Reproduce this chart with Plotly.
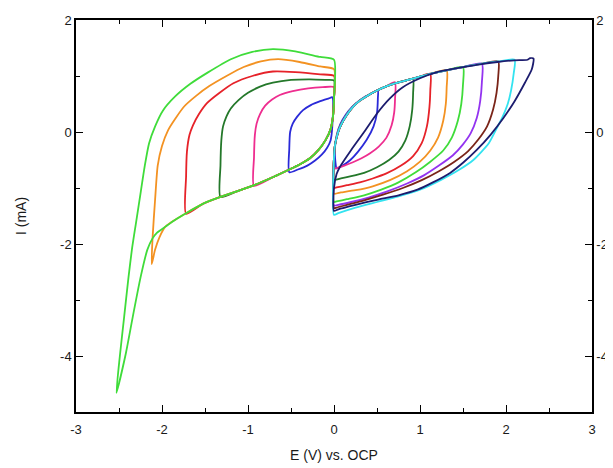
import plotly.graph_objects as go

# ---------------- data ----------------
# Left side: common cathodic branch (from 0 V to the most negative limit)
cath_E = [0.0, -0.01, -0.04, -0.10, -0.18, -0.28, -0.40, -0.52, -0.70, -0.93, -1.13, -1.32,
          -1.52, -1.72, -1.85, -1.96, -2.06, -2.11, -2.17, -2.25, -2.34, -2.42, -2.53]
cath_I = [0.60, 0.30, 0.05, -0.15, -0.32, -0.47, -0.58, -0.67, -0.80, -0.95, -1.06, -1.16,
          -1.28, -1.45, -1.57, -1.69, -1.80, -1.90, -2.10, -2.60, -3.30, -3.95, -4.66]

# Left loops: join point on the common branch, then own return branch
left_blue_E = [-0.02, -0.02, -0.04, -0.08, -0.14, -0.22, -0.31, -0.42, -0.52, -0.52, -0.51, -0.48,
               -0.43, -0.36, -0.27, -0.16, -0.06, -0.02]
left_blue_I = [0.62, 0.10, -0.15, -0.28, -0.40, -0.51, -0.60, -0.67, -0.72, -0.30, 0.00, 0.15,
               0.27, 0.39, 0.48, 0.55, 0.60, 0.62]
left_magenta_E = [-0.93, -0.93, -0.92, -0.90, -0.86, -0.80, -0.72, -0.63, -0.48, -0.30, -0.13, 0.0]
left_magenta_I = [-0.96, -0.45, -0.05, 0.15, 0.32, 0.47, 0.58, 0.66, 0.73, 0.78, 0.80, 0.80]
left_dkgreen_E = [-1.32, -1.32, -1.31, -1.29, -1.25, -1.20, -1.11, -1.00, -0.86, -0.71, -0.50, -0.28, -0.10, 0.0]
left_dkgreen_I = [-1.16, -0.60, -0.15, 0.10, 0.28, 0.42, 0.57, 0.70, 0.81, 0.88, 0.93, 0.94, 0.93, 0.92]
left_red_E = [-1.72, -1.72, -1.71, -1.68, -1.64, -1.57, -1.48, -1.33, -1.17, -0.95, -0.71, -0.45, -0.16, 0.0]
left_red_I = [-1.46, -0.80, -0.35, -0.05, 0.12, 0.32, 0.51, 0.70, 0.87, 1.00, 1.08, 1.07, 1.03, 1.00]
left_orange_E = [-2.03, -2.08, -2.12, -2.11, -2.08, -2.05, -2.00, -1.93, -1.84, -1.74, -1.60, -1.45,
                 -1.25, -1.05, -0.85, -0.65, -0.40, -0.16, 0.0]
left_orange_I = [-1.88, -2.10, -2.36, -1.90, -1.20, -0.60, -0.25, 0.03, 0.25, 0.46, 0.65, 0.82,
                 1.00, 1.16, 1.26, 1.30, 1.25, 1.17, 1.12]
left_green_E = [-2.53, -2.49, -2.44, -2.39, -2.35, -2.30, -2.25, -2.20, -2.15, -2.08, -1.99, -1.85,
                -1.67, -1.47, -1.20, -0.95, -0.71, -0.45, -0.16, 0.0]
left_green_I = [-4.66, -4.00, -3.30, -2.60, -2.10, -1.60, -1.10, -0.60, -0.20, 0.10, 0.38, 0.63,
                0.86, 1.06, 1.30, 1.43, 1.48, 1.44, 1.34, 1.29]
left_join = [0.0, -0.93, -1.32, -1.72, -2.0, -2.53]

# Right side: common anodic (upper) envelope
env_E = [0.0, 0.01, 0.03, 0.06, 0.10, 0.16, 0.22, 0.30, 0.38, 0.50, 0.60, 0.71, 0.86, 1.00,
         1.12, 1.31, 1.50, 1.72, 1.91, 2.10]
env_I = [-0.45, -0.25, -0.10, 0.05, 0.18, 0.33, 0.45, 0.56, 0.64, 0.74, 0.81, 0.87, 0.93, 0.99,
         1.04, 1.10, 1.16, 1.22, 1.26, 1.29]

right_blue_E = [0.03, 0.01, 0.02, 0.05, 0.10, 0.17, 0.26, 0.36, 0.45, 0.51, 0.51, 0.50, 0.46,
                0.38, 0.28, 0.19, 0.10, 0.05, 0.03]
right_blue_I = [-0.65, -0.40, -0.15, 0.05, 0.22, 0.38, 0.52, 0.63, 0.70, 0.75, 0.60, 0.34, 0.10,
                -0.14, -0.35, -0.50, -0.60, -0.64, -0.65]
right_pink_E = [0.71, 0.71, 0.70, 0.67, 0.61, 0.52, 0.42, 0.32, 0.22, 0.12, 0.04, 0.0]
right_pink_I = [0.89, 0.60, 0.35, 0.12, -0.10, -0.26, -0.38, -0.47, -0.54, -0.60, -0.64, -0.66]
right_dkgreen_E = [0.92, 0.92, 0.91, 0.88, 0.83, 0.75, 0.64, 0.50, 0.35, 0.20, 0.08, 0.0]
right_dkgreen_I = [0.95, 0.70, 0.40, 0.10, -0.15, -0.35, -0.50, -0.63, -0.73, -0.79, -0.83, -0.85]
right_red_E = [1.12, 1.12, 1.11, 1.08, 1.02, 0.92, 0.78, 0.61, 0.45, 0.30, 0.15, 0.03, 0.0]
right_red_I = [1.04, 0.75, 0.45, 0.10, -0.20, -0.43, -0.60, -0.74, -0.83, -0.90, -0.95, -0.99, -1.00]
right_orange_E = [1.31, 1.31, 1.30, 1.27, 1.21, 1.12, 1.00, 0.85, 0.65, 0.45, 0.25, 0.08, 0.0]
right_orange_I = [1.10, 0.80, 0.50, 0.20, -0.10, -0.33, -0.53, -0.70, -0.86, -0.97, -1.04, -1.08, -1.10]
right_green_E = [1.50, 1.50, 1.48, 1.44, 1.37, 1.27, 1.12, 0.95, 0.75, 0.55, 0.35, 0.15, 0.03, 0.0]
right_green_I = [1.16, 0.85, 0.50, 0.20, -0.10, -0.33, -0.53, -0.72, -0.90, -1.03, -1.13, -1.20, -1.24, -1.25]
right_purple_E = [1.72, 1.72, 1.70, 1.66, 1.59, 1.50, 1.38, 1.22, 1.05, 0.85, 0.62, 0.40, 0.20, 0.05, 0.0]
right_purple_I = [1.22, 0.90, 0.55, 0.25, -0.02, -0.22, -0.42, -0.60, -0.77, -0.92, -1.06, -1.17, -1.25, -1.30, -1.31]
right_brown_E = [1.91, 1.91, 1.89, 1.85, 1.78, 1.68, 1.56, 1.40, 1.22, 1.02, 0.80, 0.57, 0.35, 0.15, 0.03, 0.0]
right_brown_I = [1.26, 1.00, 0.70, 0.40, 0.10, -0.13, -0.34, -0.53, -0.70, -0.86, -1.00, -1.12, -1.22, -1.30, -1.35, -1.36]
right_cyan_E = [2.10, 2.09, 2.06, 2.02, 1.96, 1.88, 1.80, 1.62, 1.45, 1.25, 1.00, 0.75, 0.50, 0.25, 0.05, 0.0]
right_cyan_I = [1.29, 1.05, 0.75, 0.50, 0.27, 0.03, -0.20, -0.50, -0.68, -0.85, -1.03, -1.15, -1.25, -1.35, -1.45, -1.48]
right_navy_E = [0.0, 0.0, 0.03, 0.07, 0.20, 0.35, 0.50, 0.65, 0.80, 1.00, 1.20, 1.40, 1.66, 1.90, 2.10,
                2.25, 2.28, 2.32, 2.30, 2.22, 2.10, 1.97, 1.82, 1.66, 1.50, 1.35, 1.15, 0.97, 0.75,
                0.50, 0.25, 0.05, 0.0]
right_navy_I = [-1.41, -1.00, -0.75, -0.62, -0.32, 0.00, 0.33, 0.60, 0.80, 0.96, 1.07, 1.13, 1.20, 1.25, 1.28,
                1.29, 1.32, 1.31, 1.12, 0.88, 0.55, 0.25, -0.05, -0.32, -0.55, -0.73, -0.90, -1.03, -1.13,
                -1.21, -1.30, -1.38, -1.41]

x_ticks = [-3, -2, -1, 0, 1, 2, 3]
x_tick_text = ["-3", "-2", "-1", "0", "1", "2", "3"]
y_ticks = [-4, -2, 0, 2]
y_tick_text = ["-4", "-2", "0", "2"]

C = dict(blue="#2a2ad8", magenta="#ee2d8f", dkgreen="#24782a", red="#e62229", orange="#f39222",
         green="#3fdc3a", purple="#9333f0", brown="#7a2418", cyan="#33e3f0", navy="#1c1c6e")

fig = go.Figure()

def add(E, I, color):
    fig.add_trace(go.Scatter(x=E, y=I, mode="lines",
                             line=dict(color=color, width=1.8, shape="spline", smoothing=0.6),
                             hoverinfo="skip", showlegend=False))

# left loops
left_sets = [(left_blue_E, left_blue_I, C["blue"]), (left_magenta_E, left_magenta_I, C["magenta"]),
             (left_dkgreen_E, left_dkgreen_I, C["dkgreen"]), (left_red_E, left_red_I, C["red"]),
             (left_orange_E, left_orange_I, C["orange"]), (left_green_E, left_green_I, C["green"])]
for (E, I, col), j in zip(left_sets, left_join):
    if j < 0:
        ce = [e for e in cath_E if e > j]
        ci = [i for e, i in zip(cath_E, cath_I) if e > j]
        add(ce + E + [cath_E[0]], ci + I + [cath_I[0]], col)
    else:
        add(E, I, col)

# right loops
add(right_blue_E, right_blue_I, C["blue"])
right_sets = [(right_pink_E, right_pink_I, C["magenta"]), (right_dkgreen_E, right_dkgreen_I, C["dkgreen"]),
              (right_red_E, right_red_I, C["red"]), (right_orange_E, right_orange_I, C["orange"]),
              (right_green_E, right_green_I, C["green"]), (right_purple_E, right_purple_I, C["purple"]),
              (right_brown_E, right_brown_I, C["brown"]), (right_cyan_E, right_cyan_I, C["cyan"])]
for E, I, col in right_sets:
    tip = E[0]
    ee = [e for e in env_E if e < tip - 0.01]
    ei = [i for e, i in zip(env_E, env_I) if e < tip - 0.01]
    add(ee + E + [env_E[0]], ei + I + [env_I[0]], col)
add(right_navy_E, right_navy_I, C["navy"])

# dummy trace for right mirrored axis
fig.add_trace(go.Scatter(x=[None], y=[None], yaxis="y2", showlegend=False, hoverinfo="skip"))

FAM = "Liberation Sans, Arial, sans-serif"
font = dict(family=FAM, size=13, color="#1a1a1a")
common = dict(showgrid=False, zeroline=False, showline=True, linecolor="black", linewidth=1.5,
              ticks="inside", ticklen=7, tickwidth=1.3, tickcolor="black", tickfont=font)
minor_x = dict(ticks="inside", dtick=0.5, tick0=0, ticklen=4, tickcolor="black", tickwidth=1.2)
minor_y = dict(ticks="inside", dtick=1, tick0=0, ticklen=4, tickcolor="black", tickwidth=1.2)

fig.update_layout(
    width=605, height=460,
    margin=dict(l=68, r=21, t=12, b=56, autoexpand=False),
    paper_bgcolor="white", plot_bgcolor="white",
    xaxis=dict(range=[-3, 3], tickvals=x_ticks, ticktext=x_tick_text, mirror="ticks",
               minor=minor_x, ticklabelstandoff=5,
               title=dict(text="E (V) vs. OCP", font=dict(family=FAM, size=14, color="#1a1a1a"), standoff=14),
               **common),
    yaxis=dict(range=[-5, 2], tickvals=y_ticks, ticktext=y_tick_text, minor=minor_y,
               title=dict(text="I (mA)", font=dict(family=FAM, size=14, color="#1a1a1a"), standoff=30),
               **common),
    yaxis2=dict(range=[-5, 2], tickvals=y_ticks, ticktext=y_tick_text, overlaying="y", side="right",
                minor=minor_y, **common),
)

fig.write_html("out.html")
